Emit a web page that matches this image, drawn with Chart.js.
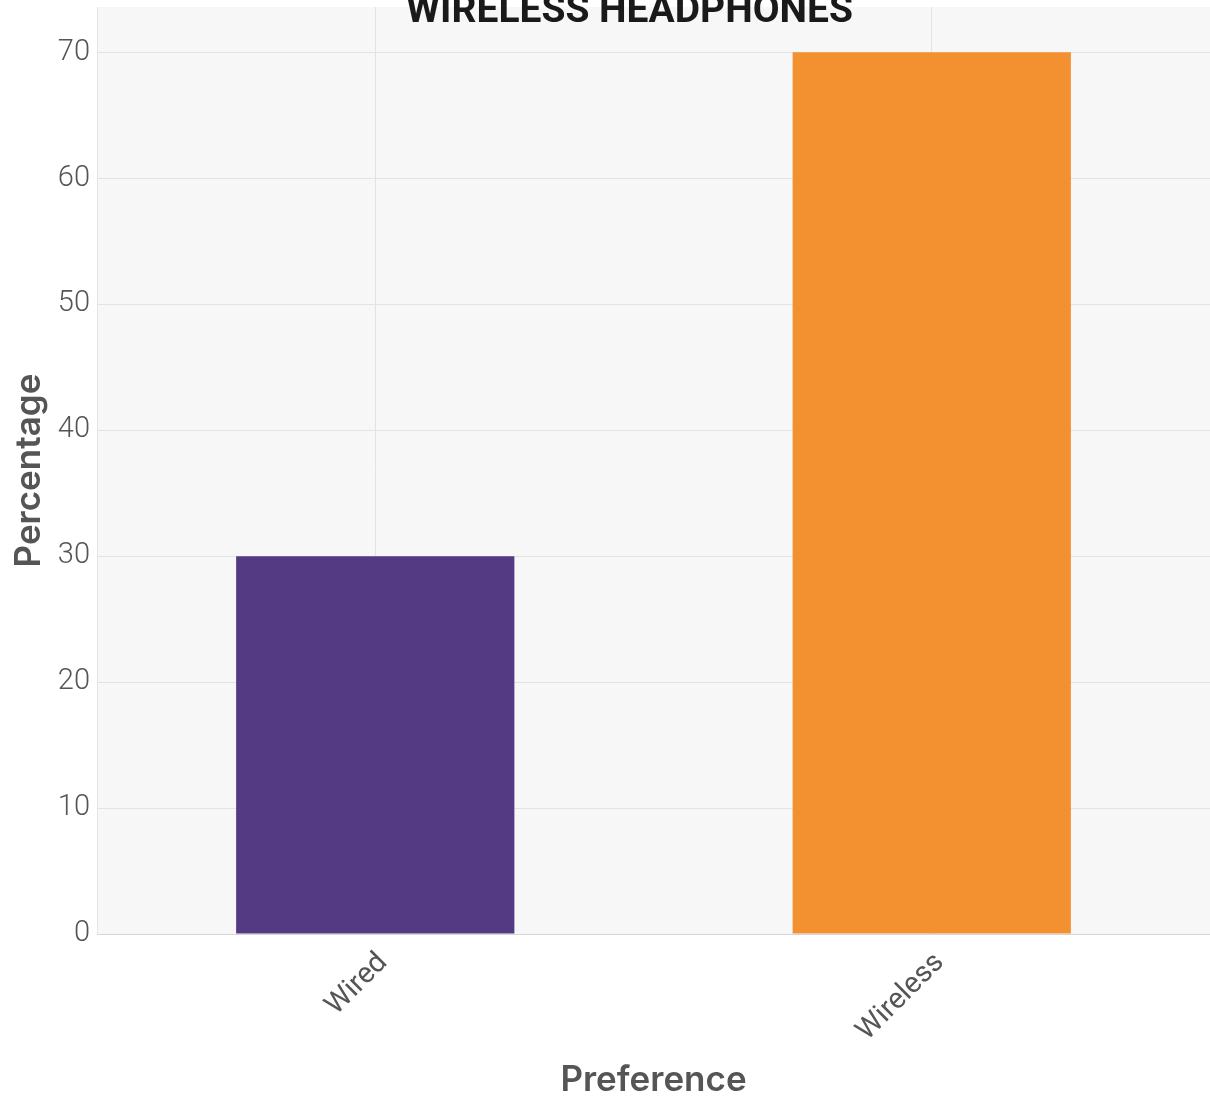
<!DOCTYPE html>
<html>
<head>
<meta charset="utf-8">
<script src="https://cdn.jsdelivr.net/npm/chart.js@4.4.0/dist/chart.umd.min.js"></script>
<style>
  html, body { margin: 0; padding: 0; background: #ffffff; }
  #wrap { width: 1210px; height: 1101px; position: relative; }
</style>
</head>
<body>
<div id="wrap"><canvas id="bar1"></canvas></div>
<script>
// data
var categories = ['Wired', 'Wireless'];
var percentages = [30, 70];
var bar_colors = ['#543a83', '#f39030'];
var y_ticks = [0, 10, 20, 30, 40, 50, 60, 70];
var chart_title = 'WIRELESS HEADPHONES';

// grey panel behind the bars
var plot_bg = {
    id: 'plot_bg',
    beforeDraw: function(chart){
        var a = chart.chartArea;
        var ctx = chart.ctx;
        ctx.save();
        ctx.fillStyle = '#f7f7f7';
        ctx.fillRect(a.left, a.top, a.right - a.left, a.bottom - a.top);
        ctx.restore();
    }
};

// title sits partly above the canvas, squeezed like the original
var top_title = {
    id: 'top_title',
    afterDraw: function(chart){
        var ctx = chart.ctx;
        ctx.save();
        ctx.font = 'bold 38px Roboto';
        ctx.fillStyle = '#1a1a1a';
        ctx.textAlign = 'left';
        ctx.textBaseline = 'alphabetic';
        var w = ctx.measureText(chart_title).width;
        var sx = 447 / w;
        ctx.translate(406, 22);
        ctx.scale(sx, 1);
        ctx.fillText(chart_title, 0, 0);
        ctx.restore();
    }
};

var ctx = document.getElementById('bar1');
new Chart(ctx, {
    type: 'bar',
    data: {
        labels: categories,
        datasets: [{
            data: percentages,
            backgroundColor: bar_colors,
            borderWidth: 0,
            barPercentage: 0.5,
            categoryPercentage: 1
        }]
    },
    plugins: [plot_bg, top_title],
    options: {
        responsive: true,
        maintainAspectRatio: false,
        animation: false,
        layout: { padding: { top: 7, right: -6, left: 0, bottom: 0 } },
        plugins: {
            legend: { display: false },
            tooltip: { enabled: false },
            title: { display: false }
        },
        scales: {
            x: {
                afterFit: function(scale){
                    scale.height = 167;
                    scale.paddingRight = 0;
                },
                grid: { color: '#e3e3e3', drawTicks: false, offset: false },
                border: { color: '#d6d6d6', width: 1 },
                ticks: {
                    color: '#555555',
                    font: { family: 'Roboto', size: 29 },
                    maxRotation: 45,
                    minRotation: 45,
                    padding: 12,
                    labelOffset: 8
                },
                title: {
                    display: true,
                    text: 'Preference',
                    color: '#555555',
                    font: { family: 'Inter', size: 35, weight: '600' },
                    padding: { top: 0, bottom: 0 }
                }
            },
            y: {
                min: 0,
                max: 73.6,
                afterFit: function(scale){
                    scale.width = 97;
                    scale.paddingTop = 0;
                    scale.paddingBottom = 0;
                },
                afterBuildTicks: function(scale){
                    scale.ticks = y_ticks.map(function(v){ return { value: v }; });
                },
                grid: { color: '#e3e3e3', drawTicks: false },
                border: { color: '#e3e3e3', width: 1 },
                ticks: {
                    color: '#555555',
                    font: { family: 'Roboto', size: 29, weight: '300' },
                    padding: 7
                },
                title: {
                    display: true,
                    text: 'Percentage',
                    color: '#555555',
                    font: { family: 'Inter', size: 35, weight: '600' },
                    padding: { top: 8, bottom: 0 }
                }
            }
        }
    }
});
</script>
</body>
</html>
